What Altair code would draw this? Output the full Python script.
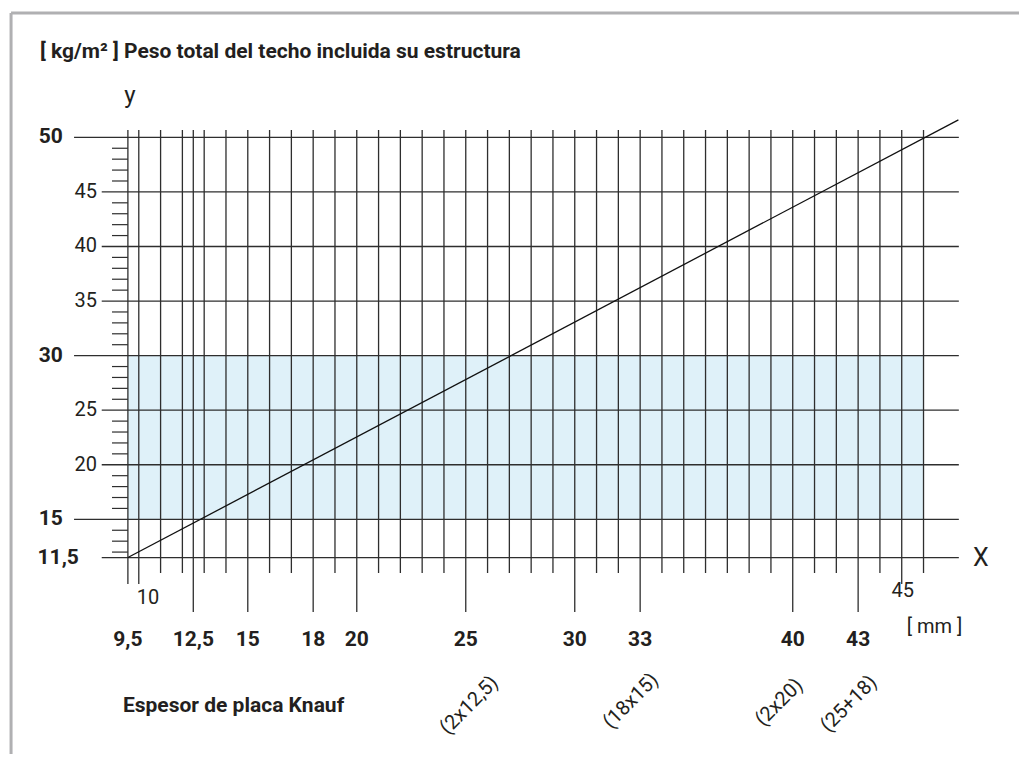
import altair as alt
import pandas as pd

# ---------------- data ----------------
x_grid = [9.5, 10, 11, 12, 12.5, 13, 14, 15, 16, 17, 18, 19, 20, 21, 22, 23, 24, 25,
          26, 27, 28, 29, 30, 31, 32, 33, 34, 35, 36, 37, 38, 39, 40, 41, 42, 43, 44, 45, 46]
x_major = [12.5, 15, 18, 20, 25, 30, 33, 40, 43]
x_long = [9.5, 10, 45]

y_bold = [50, 30, 15]
y_regular = [45, 40, 35, 25, 20, 11.5]
y_minor = [12, 13, 14, 16, 17, 18, 19, 21, 22, 23, 24, 26, 27, 28, 29, 31, 32, 33, 34,
           36, 37, 38, 39, 41, 42, 43, 44, 46, 47, 48, 49]

y_label_bold_vals = [50, 30, 15]
y_label_bold_text = ["50", "30", "15"]
y_label_reg_vals = [45, 40, 35, 25, 20]
y_label_reg_text = ["45", "40", "35", "25", "20"]

x_label_vals = [9.5, 12.5, 15, 18, 20, 25, 30, 33, 40, 43]
x_label_text = ["9,5", "12,5", "15", "18", "20", "25", "30", "33", "40", "43"]

rot_vals = [25, 33, 40, 43]
rot_text = ["(2x12,5)", "(18x15)", "(2x20)", "(25+18)"]

line_x = [9.5, 47.6]
line_y = [11.5, 51.6]

band_x = [9.5, 46]
band_y = [15, 30]

title_text = "[ kg/m² ]  Peso total del techo incluida su estructura"
xcap_text = "Espesor de placa Knauf"

# ---------------- scales / styles ----------------
W, H = 1011, 746
XS = alt.Scale(domain=[4, 50.38], nice=False, zero=False)
YS = alt.Scale(domain=[-6.5, 61.85], nice=False, zero=False)
FONT = "Roboto"
INK = "#231f20"
GRID = "#2e2e2e"

X_AXIS_Y = 11.5
X_RIGHT = 47.62
V_TOP = 50.67
B_SHORT, B_LONG, B_MAJOR = 10.08, 9.07, 6.5
L_BOLD, L_REG, L_MINOR = 7.03, 8.30, 8.77

# pixel offsets (in the rotated frame) of the slanted labels' centres
ROT_OFFSETS = [(-102, 107), (-108, 95), (-112, 93), (-110, 97)]


def X(f="x"):
    return alt.X(f, type="quantitative", scale=XS, axis=None)


def Y(f="y"):
    return alt.Y(f, type="quantitative", scale=YS, axis=None)


# band
band_df = pd.DataFrame({"x": [band_x[0]], "x2": [band_x[1]], "y": [band_y[0]], "y2": [band_y[1]]})
band = alt.Chart(band_df).mark_rect(color="#dff1f9").encode(
    x=X(), x2="x2", y=Y(), y2="y2")

# vertical grid
vrows = []
for v in x_grid:
    if v in x_major:
        b = B_MAJOR
    elif v in x_long:
        b = B_LONG
    else:
        b = B_SHORT
    vrows.append({"x": v, "y": V_TOP, "y2": b})
vgrid = alt.Chart(pd.DataFrame(vrows)).mark_rule(color=GRID, strokeWidth=1.3).encode(
    x=X(), y=Y(), y2="y2")

# horizontal grid
hrows = [{"y": v, "x": L_BOLD, "x2": X_RIGHT} for v in y_bold] + \
        [{"y": v, "x": L_REG, "x2": X_RIGHT} for v in y_regular]
hgrid = alt.Chart(pd.DataFrame(hrows)).mark_rule(color=GRID, strokeWidth=1.3).encode(
    x=X(), x2="x2", y=Y())

# minor y ticks
mrows = [{"y": v, "x": L_MINOR, "x2": 9.5} for v in y_minor]
minor = alt.Chart(pd.DataFrame(mrows)).mark_rule(color=GRID, strokeWidth=1.2).encode(
    x=X(), x2="x2", y=Y())

# diagonal
diag = alt.Chart(pd.DataFrame({"x": line_x, "y": line_y})).mark_line(
    color="#111111", strokeWidth=1.3).encode(x=X(), y=Y())

# frame (decoration)
frame_df = pd.DataFrame({"x": [4.14], "x2": [50.38], "y": [61.39], "y2": [-6.5]})
frame_top = alt.Chart(frame_df).mark_rule(color="#b0b0b2", strokeWidth=3).encode(
    x=X(), x2="x2", y=Y())
frame_left = alt.Chart(frame_df).mark_rule(color="#b0b0b2", strokeWidth=3).encode(
    x=X(), y=Y(), y2="y2")


def text_layer(df, **kw):
    base = dict(font=FONT, color=INK, fontSize=20, baseline="middle")
    base.update(kw)
    return alt.Chart(df).mark_text(**base).encode(x=X(), y=Y(), text="t:N")


ylab_bold = text_layer(pd.DataFrame({"x": 9.5, "y": y_label_bold_vals, "t": y_label_bold_text}),
                       align="right", dx=-65, fontWeight="bold", fontSize=21)
ylab_115 = text_layer(pd.DataFrame({"x": [9.5], "y": [11.5], "t": ["11,5"]}),
                      align="right", dx=-49, fontWeight="bold", fontSize=21)
ylab_reg = text_layer(pd.DataFrame({"x": 9.5, "y": y_label_reg_vals, "t": y_label_reg_text}),
                      align="right", dx=-31)

xlab_bold = text_layer(pd.DataFrame({"x": x_label_vals, "y": X_AXIS_Y, "t": x_label_text}),
                       align="center", dy=82, fontWeight="bold", fontSize=21)
xlab_10 = text_layer(pd.DataFrame({"x": [10], "y": [X_AXIS_Y], "t": ["10"]}),
                     align="left", dx=-2, dy=40)
xlab_45 = text_layer(pd.DataFrame({"x": [45], "y": [X_AXIS_Y], "t": ["45"]}),
                     align="center", dx=1, dy=33)
xlab_mm = text_layer(pd.DataFrame({"x": [46], "y": [X_AXIS_Y], "t": ["[ mm ]"]}),
                     align="center", dx=11, dy=69)
xname = text_layer(pd.DataFrame({"x": [X_RIGHT], "y": [X_AXIS_Y], "t": ["X"]}),
                   align="center", dx=22, dy=0, fontSize=25)
yname = text_layer(pd.DataFrame({"x": [9.5], "y": [50], "t": ["y"]}),
                   align="center", dx=2, dy=-34, fontSize=24, baseline="alphabetic")
title = text_layer(pd.DataFrame({"x": [9.5], "y": [50], "t": [title_text]}),
                   align="left", dx=-88, dy=-79, fontWeight="bold", fontSize=21,
                   baseline="alphabetic")
xcap = text_layer(pd.DataFrame({"x": [9.5], "y": [X_AXIS_Y], "t": [xcap_text]}),
                  align="left", dx=-5, dy=154, fontWeight="bold", fontSize=21,
                  baseline="alphabetic")

rot_layers = []
for v, t, (ox, oy) in zip(rot_vals, rot_text, ROT_OFFSETS):
    rot_layers.append(text_layer(pd.DataFrame({"x": [v], "y": [X_AXIS_Y], "t": [t]}),
                                 align="center", angle=315, dx=ox, dy=oy, fontSize=20))

chart = alt.layer(
    frame_top, frame_left, band, vgrid, hgrid, minor, diag,
    ylab_bold, ylab_115, ylab_reg, xlab_bold, xlab_10, xlab_45, xlab_mm,
    xname, yname, title, xcap, *rot_layers,
).properties(
    width=W, height=H, autosize=alt.AutoSizeParams(type="none"), padding=0,
    background="white",
).configure_view(strokeWidth=0)

chart.save("out.html", embed_options={"renderer": "svg", "actions": False})
